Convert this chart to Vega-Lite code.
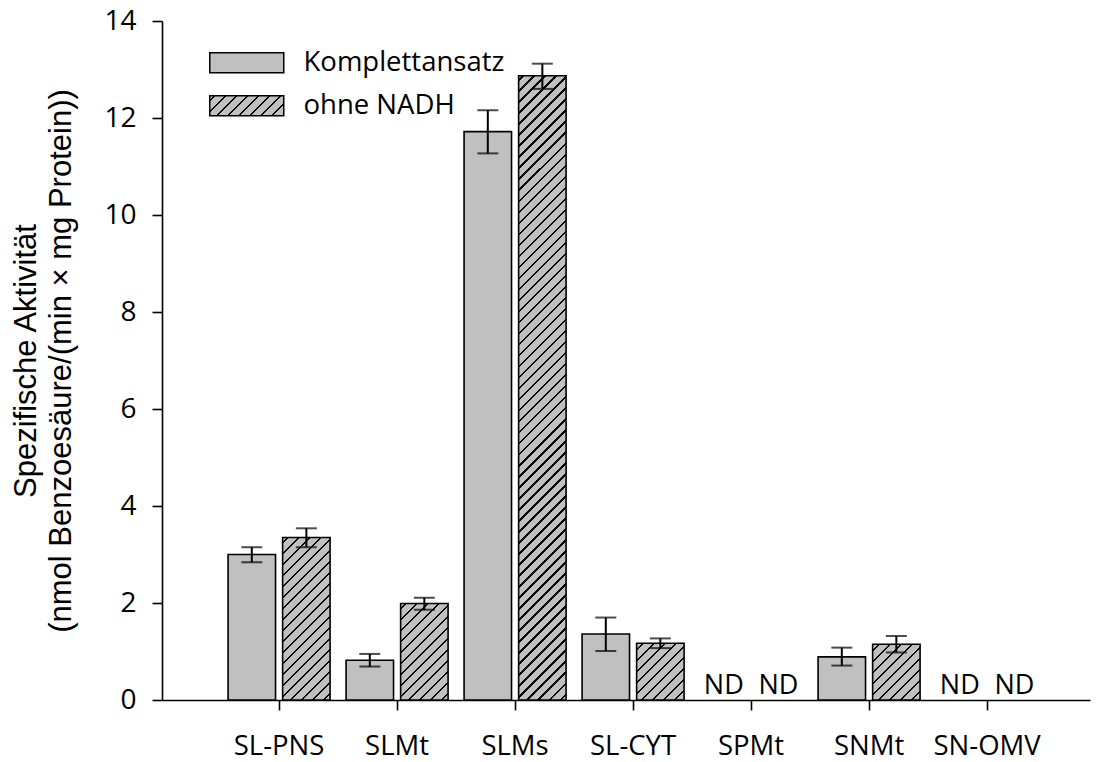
{
  "$schema": "https://vega.github.io/schema/vega-lite/v6.json",
  "autosize": {"type": "none"},
  "padding": {"left": 162, "top": 21, "right": 6, "bottom": 62},
  "width": 928,
  "height": 679,
  "background": "white",
  "config": {
    "view": {"stroke": null},
    "axis": {"grid": false, "domainColor": "black", "domainWidth": 1.6, "tickColor": "black", "tickWidth": 1.6, "tickSize": 10, "labelColor": "black", "labelFont": "Open Sans", "titleColor": "black"},
    "legend": {"title": null, "orient": "none", "padding": 0, "symbolType": "M-3.7,-1H3.7V1H-3.7Z", "symbolSize": 400, "symbolStrokeWidth": 1.5, "symbolOffset": 0, "labelFont": "Open Sans", "labelFontSize": 27.5, "labelColor": "black", "labelOffset": 43, "labelLimit": 400}
  },
  "data": {
    "values": [
      {"group": "SL-PNS", "series": "Komplettansatz", "value": 3.0, "lo": 2.84, "hi": 3.15},
      {"group": "SL-PNS", "series": "ohne NADH", "value": 3.35, "lo": 3.15, "hi": 3.54},
      {"group": "SLMt", "series": "Komplettansatz", "value": 0.82, "lo": 0.69, "hi": 0.95},
      {"group": "SLMt", "series": "ohne NADH", "value": 1.99, "lo": 1.86, "hi": 2.11},
      {"group": "SLMs", "series": "Komplettansatz", "value": 11.72, "lo": 11.27, "hi": 12.16},
      {"group": "SLMs", "series": "ohne NADH", "value": 12.87, "lo": 12.6, "hi": 13.12},
      {"group": "SL-CYT", "series": "Komplettansatz", "value": 1.36, "lo": 1.01, "hi": 1.7},
      {"group": "SL-CYT", "series": "ohne NADH", "value": 1.17, "lo": 1.07, "hi": 1.27},
      {"group": "SPMt", "series": "Komplettansatz", "value": null, "lo": null, "hi": null, "nd": "ND"},
      {"group": "SPMt", "series": "ohne NADH", "value": null, "lo": null, "hi": null, "nd": "ND"},
      {"group": "SNMt", "series": "Komplettansatz", "value": 0.89, "lo": 0.71, "hi": 1.08},
      {"group": "SNMt", "series": "ohne NADH", "value": 1.15, "lo": 0.98, "hi": 1.32},
      {"group": "SN-OMV", "series": "Komplettansatz", "value": null, "lo": null, "hi": null, "nd": "ND"},
      {"group": "SN-OMV", "series": "ohne NADH", "value": null, "lo": null, "hi": null, "nd": "ND"}
    ]
  },
  "encoding": {
    "x": {
      "field": "group", "type": "nominal", "title": null,
      "scale": {"domain": ["SL-PNS", "SLMt", "SLMs", "SL-CYT", "SPMt", "SNMt", "SN-OMV"], "paddingInner": 0.1356, "paddingOuter": 0.5, "align": 0.56},
      "axis": {"labelAngle": 0, "labelFontSize": 27.5, "labelPadding": 22, "labelBaseline": "top"}
    },
    "xOffset": {
      "field": "series", "type": "nominal",
      "scale": {"domain": ["Komplettansatz", "ohne NADH"], "paddingInner": 0.13, "paddingOuter": 0}
    }
  },
  "layer": [
    {
      "transform": [{"filter": "datum.series === 'Komplettansatz'"}],
      "mark": {"type": "bar", "fill": "silver", "strokeWidth": 1.6},
      "encoding": {
        "y": {
          "field": "value", "type": "quantitative",
          "scale": {"domain": [0, 14], "nice": false},
          "title": ["Spezifische Aktivität", "(nmol Benzoesäure/(min × mg Protein))"],
          "axis": {"values": [0, 2, 4, 6, 8, 10, 12, 14], "labelFontSize": 28, "labelPadding": 16, "titleFont": "Liberation Sans", "titleFontSize": 31, "titleFontWeight": "normal", "titleLineHeight": 35, "titlePadding": 26}
        },
        "stroke": {
          "field": "series", "type": "nominal",
          "scale": {"domain": ["Komplettansatz"], "range": ["black"]},
          "legend": {"legendX": 71, "legendY": 28}
        }
      }
    },
    {
      "transform": [{"filter": "datum.series === 'ohne NADH' && datum.value != null"}],
      "mark": {"type": "bar", "stroke": "black", "strokeWidth": 1.6},
      "encoding": {
        "y": {"field": "value", "type": "quantitative", "title": ["Spezifische Aktivität", "(nmol Benzoesäure/(min × mg Protein))"]},
        "opacity": {
          "field": "series", "type": "nominal",
          "scale": {"domain": ["ohne NADH"], "range": [1]},
          "legend": {"legendX": 71, "legendY": 71}
        },
        "fill": {
          "condition": [
            {"test": "datum.group === 'SLMs'", "value": {"gradient": "linear", "x1": 0, "y1": 0, "x2": 0.08137, "y2": 1.0704, "stops": [
              {"offset":0.005,"color":"silver"},{"offset":0.005,"color":"black"},{"offset":0.0087,"color":"black"},{"offset":0.0087,"color":"silver"},
              {"offset":0.0214,"color":"silver"},{"offset":0.0214,"color":"black"},{"offset":0.0251,"color":"black"},{"offset":0.0251,"color":"silver"},
              {"offset":0.0378,"color":"silver"},{"offset":0.0378,"color":"black"},{"offset":0.0415,"color":"black"},{"offset":0.0415,"color":"silver"},
              {"offset":0.0542,"color":"silver"},{"offset":0.0542,"color":"black"},{"offset":0.0579,"color":"black"},{"offset":0.0579,"color":"silver"},
              {"offset":0.0706,"color":"silver"},{"offset":0.0706,"color":"black"},{"offset":0.0743,"color":"black"},{"offset":0.0743,"color":"silver"},
              {"offset":0.087,"color":"silver"},{"offset":0.087,"color":"black"},{"offset":0.0907,"color":"black"},{"offset":0.0907,"color":"silver"},
              {"offset":0.1034,"color":"silver"},{"offset":0.1034,"color":"black"},{"offset":0.1071,"color":"black"},{"offset":0.1071,"color":"silver"},
              {"offset":0.1198,"color":"silver"},{"offset":0.1198,"color":"black"},{"offset":0.1235,"color":"black"},{"offset":0.1235,"color":"silver"},
              {"offset":0.1362,"color":"silver"},{"offset":0.1362,"color":"black"},{"offset":0.1399,"color":"black"},{"offset":0.1399,"color":"silver"},
              {"offset":0.1526,"color":"silver"},{"offset":0.1526,"color":"black"},{"offset":0.1563,"color":"black"},{"offset":0.1563,"color":"silver"},
              {"offset":0.169,"color":"silver"},{"offset":0.169,"color":"black"},{"offset":0.1727,"color":"black"},{"offset":0.1727,"color":"silver"},
              {"offset":0.1854,"color":"silver"},{"offset":0.1854,"color":"black"},{"offset":0.1891,"color":"black"},{"offset":0.1891,"color":"silver"},
              {"offset":0.2018,"color":"silver"},{"offset":0.2018,"color":"black"},{"offset":0.2055,"color":"black"},{"offset":0.2055,"color":"silver"},
              {"offset":0.2182,"color":"silver"},{"offset":0.2182,"color":"black"},{"offset":0.2219,"color":"black"},{"offset":0.2219,"color":"silver"},
              {"offset":0.2346,"color":"silver"},{"offset":0.2346,"color":"black"},{"offset":0.2383,"color":"black"},{"offset":0.2383,"color":"silver"},
              {"offset":0.251,"color":"silver"},{"offset":0.251,"color":"black"},{"offset":0.2547,"color":"black"},{"offset":0.2547,"color":"silver"},
              {"offset":0.2674,"color":"silver"},{"offset":0.2674,"color":"black"},{"offset":0.2711,"color":"black"},{"offset":0.2711,"color":"silver"},
              {"offset":0.2838,"color":"silver"},{"offset":0.2838,"color":"black"},{"offset":0.2875,"color":"black"},{"offset":0.2875,"color":"silver"},
              {"offset":0.3002,"color":"silver"},{"offset":0.3002,"color":"black"},{"offset":0.3039,"color":"black"},{"offset":0.3039,"color":"silver"},
              {"offset":0.3166,"color":"silver"},{"offset":0.3166,"color":"black"},{"offset":0.3203,"color":"black"},{"offset":0.3203,"color":"silver"},
              {"offset":0.333,"color":"silver"},{"offset":0.333,"color":"black"},{"offset":0.3367,"color":"black"},{"offset":0.3367,"color":"silver"},
              {"offset":0.3494,"color":"silver"},{"offset":0.3494,"color":"black"},{"offset":0.3531,"color":"black"},{"offset":0.3531,"color":"silver"},
              {"offset":0.3658,"color":"silver"},{"offset":0.3658,"color":"black"},{"offset":0.3695,"color":"black"},{"offset":0.3695,"color":"silver"},
              {"offset":0.3822,"color":"silver"},{"offset":0.3822,"color":"black"},{"offset":0.3859,"color":"black"},{"offset":0.3859,"color":"silver"},
              {"offset":0.3986,"color":"silver"},{"offset":0.3986,"color":"black"},{"offset":0.4023,"color":"black"},{"offset":0.4023,"color":"silver"},
              {"offset":0.415,"color":"silver"},{"offset":0.415,"color":"black"},{"offset":0.4187,"color":"black"},{"offset":0.4187,"color":"silver"},
              {"offset":0.4314,"color":"silver"},{"offset":0.4314,"color":"black"},{"offset":0.4351,"color":"black"},{"offset":0.4351,"color":"silver"},
              {"offset":0.4478,"color":"silver"},{"offset":0.4478,"color":"black"},{"offset":0.4515,"color":"black"},{"offset":0.4515,"color":"silver"},
              {"offset":0.4642,"color":"silver"},{"offset":0.4642,"color":"black"},{"offset":0.4679,"color":"black"},{"offset":0.4679,"color":"silver"},
              {"offset":0.4806,"color":"silver"},{"offset":0.4806,"color":"black"},{"offset":0.4843,"color":"black"},{"offset":0.4843,"color":"silver"},
              {"offset":0.497,"color":"silver"},{"offset":0.497,"color":"black"},{"offset":0.5007,"color":"black"},{"offset":0.5007,"color":"silver"},
              {"offset":0.5134,"color":"silver"},{"offset":0.5134,"color":"black"},{"offset":0.5171,"color":"black"},{"offset":0.5171,"color":"silver"},
              {"offset":0.5298,"color":"silver"},{"offset":0.5298,"color":"black"},{"offset":0.5335,"color":"black"},{"offset":0.5335,"color":"silver"},
              {"offset":0.5462,"color":"silver"},{"offset":0.5462,"color":"black"},{"offset":0.5499,"color":"black"},{"offset":0.5499,"color":"silver"},
              {"offset":0.5626,"color":"silver"},{"offset":0.5626,"color":"black"},{"offset":0.5663,"color":"black"},{"offset":0.5663,"color":"silver"},
              {"offset":0.579,"color":"silver"},{"offset":0.579,"color":"black"},{"offset":0.5827,"color":"black"},{"offset":0.5827,"color":"silver"},
              {"offset":0.5954,"color":"silver"},{"offset":0.5954,"color":"black"},{"offset":0.5991,"color":"black"},{"offset":0.5991,"color":"silver"},
              {"offset":0.6118,"color":"silver"},{"offset":0.6118,"color":"black"},{"offset":0.6155,"color":"black"},{"offset":0.6155,"color":"silver"},
              {"offset":0.6282,"color":"silver"},{"offset":0.6282,"color":"black"},{"offset":0.6319,"color":"black"},{"offset":0.6319,"color":"silver"},
              {"offset":0.6446,"color":"silver"},{"offset":0.6446,"color":"black"},{"offset":0.6483,"color":"black"},{"offset":0.6483,"color":"silver"},
              {"offset":0.661,"color":"silver"},{"offset":0.661,"color":"black"},{"offset":0.6647,"color":"black"},{"offset":0.6647,"color":"silver"},
              {"offset":0.6774,"color":"silver"},{"offset":0.6774,"color":"black"},{"offset":0.6811,"color":"black"},{"offset":0.6811,"color":"silver"},
              {"offset":0.6938,"color":"silver"},{"offset":0.6938,"color":"black"},{"offset":0.6975,"color":"black"},{"offset":0.6975,"color":"silver"},
              {"offset":0.7102,"color":"silver"},{"offset":0.7102,"color":"black"},{"offset":0.7139,"color":"black"},{"offset":0.7139,"color":"silver"},
              {"offset":0.7266,"color":"silver"},{"offset":0.7266,"color":"black"},{"offset":0.7303,"color":"black"},{"offset":0.7303,"color":"silver"},
              {"offset":0.743,"color":"silver"},{"offset":0.743,"color":"black"},{"offset":0.7467,"color":"black"},{"offset":0.7467,"color":"silver"},
              {"offset":0.7594,"color":"silver"},{"offset":0.7594,"color":"black"},{"offset":0.7631,"color":"black"},{"offset":0.7631,"color":"silver"},
              {"offset":0.7758,"color":"silver"},{"offset":0.7758,"color":"black"},{"offset":0.7795,"color":"black"},{"offset":0.7795,"color":"silver"},
              {"offset":0.7922,"color":"silver"},{"offset":0.7922,"color":"black"},{"offset":0.7959,"color":"black"},{"offset":0.7959,"color":"silver"},
              {"offset":0.8086,"color":"silver"},{"offset":0.8086,"color":"black"},{"offset":0.8123,"color":"black"},{"offset":0.8123,"color":"silver"},
              {"offset":0.825,"color":"silver"},{"offset":0.825,"color":"black"},{"offset":0.8287,"color":"black"},{"offset":0.8287,"color":"silver"},
              {"offset":0.8414,"color":"silver"},{"offset":0.8414,"color":"black"},{"offset":0.8451,"color":"black"},{"offset":0.8451,"color":"silver"},
              {"offset":0.8578,"color":"silver"},{"offset":0.8578,"color":"black"},{"offset":0.8615,"color":"black"},{"offset":0.8615,"color":"silver"},
              {"offset":0.8742,"color":"silver"},{"offset":0.8742,"color":"black"},{"offset":0.8779,"color":"black"},{"offset":0.8779,"color":"silver"},
              {"offset":0.8906,"color":"silver"},{"offset":0.8906,"color":"black"},{"offset":0.8943,"color":"black"},{"offset":0.8943,"color":"silver"},
              {"offset":0.907,"color":"silver"},{"offset":0.907,"color":"black"},{"offset":0.9107,"color":"black"},{"offset":0.9107,"color":"silver"},
              {"offset":0.9234,"color":"silver"},{"offset":0.9234,"color":"black"},{"offset":0.9271,"color":"black"},{"offset":0.9271,"color":"silver"},
              {"offset":0.9398,"color":"silver"},{"offset":0.9398,"color":"black"},{"offset":0.9435,"color":"black"},{"offset":0.9435,"color":"silver"},
              {"offset":0.9562,"color":"silver"},{"offset":0.9562,"color":"black"},{"offset":0.9599,"color":"black"},{"offset":0.9599,"color":"silver"},
              {"offset":0.9726,"color":"silver"},{"offset":0.9726,"color":"black"},{"offset":0.9763,"color":"black"},{"offset":0.9763,"color":"silver"},
              {"offset":0.989,"color":"silver"},{"offset":0.989,"color":"black"},{"offset":0.9927,"color":"black"},{"offset":0.9927,"color":"silver"}
            ]}},
            {"test": "datum.group === 'SL-PNS'", "value": {"gradient": "linear", "x1": 0, "y1": 0, "x2": 0.3478, "y2": 1.1909, "stops": [
              {"offset":0.02,"color":"silver"},{"offset":0.02,"color":"black"},{"offset":0.032,"color":"black"},{"offset":0.032,"color":"silver"},
              {"offset":0.0724,"color":"silver"},{"offset":0.0724,"color":"black"},{"offset":0.0844,"color":"black"},{"offset":0.0844,"color":"silver"},
              {"offset":0.1248,"color":"silver"},{"offset":0.1248,"color":"black"},{"offset":0.1368,"color":"black"},{"offset":0.1368,"color":"silver"},
              {"offset":0.1772,"color":"silver"},{"offset":0.1772,"color":"black"},{"offset":0.1892,"color":"black"},{"offset":0.1892,"color":"silver"},
              {"offset":0.2296,"color":"silver"},{"offset":0.2296,"color":"black"},{"offset":0.2416,"color":"black"},{"offset":0.2416,"color":"silver"},
              {"offset":0.282,"color":"silver"},{"offset":0.282,"color":"black"},{"offset":0.294,"color":"black"},{"offset":0.294,"color":"silver"},
              {"offset":0.3344,"color":"silver"},{"offset":0.3344,"color":"black"},{"offset":0.3464,"color":"black"},{"offset":0.3464,"color":"silver"},
              {"offset":0.3868,"color":"silver"},{"offset":0.3868,"color":"black"},{"offset":0.3988,"color":"black"},{"offset":0.3988,"color":"silver"},
              {"offset":0.4392,"color":"silver"},{"offset":0.4392,"color":"black"},{"offset":0.4512,"color":"black"},{"offset":0.4512,"color":"silver"},
              {"offset":0.4916,"color":"silver"},{"offset":0.4916,"color":"black"},{"offset":0.5036,"color":"black"},{"offset":0.5036,"color":"silver"},
              {"offset":0.544,"color":"silver"},{"offset":0.544,"color":"black"},{"offset":0.556,"color":"black"},{"offset":0.556,"color":"silver"},
              {"offset":0.5964,"color":"silver"},{"offset":0.5964,"color":"black"},{"offset":0.6084,"color":"black"},{"offset":0.6084,"color":"silver"},
              {"offset":0.6488,"color":"silver"},{"offset":0.6488,"color":"black"},{"offset":0.6608,"color":"black"},{"offset":0.6608,"color":"silver"},
              {"offset":0.7012,"color":"silver"},{"offset":0.7012,"color":"black"},{"offset":0.7132,"color":"black"},{"offset":0.7132,"color":"silver"},
              {"offset":0.7536,"color":"silver"},{"offset":0.7536,"color":"black"},{"offset":0.7656,"color":"black"},{"offset":0.7656,"color":"silver"},
              {"offset":0.806,"color":"silver"},{"offset":0.806,"color":"black"},{"offset":0.818,"color":"black"},{"offset":0.818,"color":"silver"},
              {"offset":0.8584,"color":"silver"},{"offset":0.8584,"color":"black"},{"offset":0.8704,"color":"black"},{"offset":0.8704,"color":"silver"},
              {"offset":0.9108,"color":"silver"},{"offset":0.9108,"color":"black"},{"offset":0.9228,"color":"black"},{"offset":0.9228,"color":"silver"},
              {"offset":0.9632,"color":"silver"},{"offset":0.9632,"color":"black"},{"offset":0.9752,"color":"black"},{"offset":0.9752,"color":"silver"}
            ]}},
            {"test": "datum.group === 'SLMt'", "value": {"gradient": "linear", "x1": 0, "y1": 0, "x2": 0.5907, "y2": 1.2015, "stops": [
              {"offset":0.03,"color":"silver"},{"offset":0.03,"color":"black"},{"offset":0.0474,"color":"black"},{"offset":0.0474,"color":"silver"},
              {"offset":0.1064,"color":"silver"},{"offset":0.1064,"color":"black"},{"offset":0.1238,"color":"black"},{"offset":0.1238,"color":"silver"},
              {"offset":0.1828,"color":"silver"},{"offset":0.1828,"color":"black"},{"offset":0.2002,"color":"black"},{"offset":0.2002,"color":"silver"},
              {"offset":0.2592,"color":"silver"},{"offset":0.2592,"color":"black"},{"offset":0.2766,"color":"black"},{"offset":0.2766,"color":"silver"},
              {"offset":0.3356,"color":"silver"},{"offset":0.3356,"color":"black"},{"offset":0.353,"color":"black"},{"offset":0.353,"color":"silver"},
              {"offset":0.412,"color":"silver"},{"offset":0.412,"color":"black"},{"offset":0.4294,"color":"black"},{"offset":0.4294,"color":"silver"},
              {"offset":0.4884,"color":"silver"},{"offset":0.4884,"color":"black"},{"offset":0.5058,"color":"black"},{"offset":0.5058,"color":"silver"},
              {"offset":0.5648,"color":"silver"},{"offset":0.5648,"color":"black"},{"offset":0.5822,"color":"black"},{"offset":0.5822,"color":"silver"},
              {"offset":0.6412,"color":"silver"},{"offset":0.6412,"color":"black"},{"offset":0.6586,"color":"black"},{"offset":0.6586,"color":"silver"},
              {"offset":0.7176,"color":"silver"},{"offset":0.7176,"color":"black"},{"offset":0.735,"color":"black"},{"offset":0.735,"color":"silver"},
              {"offset":0.794,"color":"silver"},{"offset":0.794,"color":"black"},{"offset":0.8114,"color":"black"},{"offset":0.8114,"color":"silver"},
              {"offset":0.8704,"color":"silver"},{"offset":0.8704,"color":"black"},{"offset":0.8878,"color":"black"},{"offset":0.8878,"color":"silver"},
              {"offset":0.9468,"color":"silver"},{"offset":0.9468,"color":"black"},{"offset":0.9642,"color":"black"},{"offset":0.9642,"color":"silver"}
            ]}},
            {"test": "datum.group === 'SL-CYT'", "value": {"gradient": "linear", "x1": 0, "y1": 0, "x2": 0.9035, "y2": 1.0806, "stops": [
              {"offset":0.05,"color":"silver"},{"offset":0.05,"color":"black"},{"offset":0.074,"color":"black"},{"offset":0.074,"color":"silver"},
              {"offset":0.1556,"color":"silver"},{"offset":0.1556,"color":"black"},{"offset":0.1796,"color":"black"},{"offset":0.1796,"color":"silver"},
              {"offset":0.2612,"color":"silver"},{"offset":0.2612,"color":"black"},{"offset":0.2852,"color":"black"},{"offset":0.2852,"color":"silver"},
              {"offset":0.3668,"color":"silver"},{"offset":0.3668,"color":"black"},{"offset":0.3908,"color":"black"},{"offset":0.3908,"color":"silver"},
              {"offset":0.4724,"color":"silver"},{"offset":0.4724,"color":"black"},{"offset":0.4964,"color":"black"},{"offset":0.4964,"color":"silver"},
              {"offset":0.578,"color":"silver"},{"offset":0.578,"color":"black"},{"offset":0.602,"color":"black"},{"offset":0.602,"color":"silver"},
              {"offset":0.6836,"color":"silver"},{"offset":0.6836,"color":"black"},{"offset":0.7076,"color":"black"},{"offset":0.7076,"color":"silver"},
              {"offset":0.7892,"color":"silver"},{"offset":0.7892,"color":"black"},{"offset":0.8132,"color":"black"},{"offset":0.8132,"color":"silver"},
              {"offset":0.8948,"color":"silver"},{"offset":0.8948,"color":"black"},{"offset":0.9188,"color":"black"},{"offset":0.9188,"color":"silver"}
            ]}},
            {"test": "datum.group === 'SNMt'", "value": {"gradient": "linear", "x1": 0, "y1": 0, "x2": 0.9131, "y2": 1.0734, "stops": [
              {"offset":0.05,"color":"silver"},{"offset":0.05,"color":"black"},{"offset":0.0742,"color":"black"},{"offset":0.0742,"color":"silver"},
              {"offset":0.1566,"color":"silver"},{"offset":0.1566,"color":"black"},{"offset":0.1808,"color":"black"},{"offset":0.1808,"color":"silver"},
              {"offset":0.2632,"color":"silver"},{"offset":0.2632,"color":"black"},{"offset":0.2874,"color":"black"},{"offset":0.2874,"color":"silver"},
              {"offset":0.3698,"color":"silver"},{"offset":0.3698,"color":"black"},{"offset":0.394,"color":"black"},{"offset":0.394,"color":"silver"},
              {"offset":0.4764,"color":"silver"},{"offset":0.4764,"color":"black"},{"offset":0.5006,"color":"black"},{"offset":0.5006,"color":"silver"},
              {"offset":0.583,"color":"silver"},{"offset":0.583,"color":"black"},{"offset":0.6072,"color":"black"},{"offset":0.6072,"color":"silver"},
              {"offset":0.6896,"color":"silver"},{"offset":0.6896,"color":"black"},{"offset":0.7138,"color":"black"},{"offset":0.7138,"color":"silver"},
              {"offset":0.7962,"color":"silver"},{"offset":0.7962,"color":"black"},{"offset":0.8204,"color":"black"},{"offset":0.8204,"color":"silver"},
              {"offset":0.9028,"color":"silver"},{"offset":0.9028,"color":"black"},{"offset":0.927,"color":"black"},{"offset":0.927,"color":"silver"}
            ]}}
          ],
          "value": {"gradient": "linear", "x1": 0, "y1": 0, "x2": 1.1838, "y2": 0.3199, "stops": [
            {"offset":0.04,"color":"silver"},{"offset":0.04,"color":"black"},{"offset":0.0666,"color":"black"},{"offset":0.0666,"color":"silver"},
            {"offset":0.157,"color":"silver"},{"offset":0.157,"color":"black"},{"offset":0.1836,"color":"black"},{"offset":0.1836,"color":"silver"},
            {"offset":0.274,"color":"silver"},{"offset":0.274,"color":"black"},{"offset":0.3006,"color":"black"},{"offset":0.3006,"color":"silver"},
            {"offset":0.391,"color":"silver"},{"offset":0.391,"color":"black"},{"offset":0.4176,"color":"black"},{"offset":0.4176,"color":"silver"},
            {"offset":0.508,"color":"silver"},{"offset":0.508,"color":"black"},{"offset":0.5346,"color":"black"},{"offset":0.5346,"color":"silver"},
            {"offset":0.625,"color":"silver"},{"offset":0.625,"color":"black"},{"offset":0.6516,"color":"black"},{"offset":0.6516,"color":"silver"},
            {"offset":0.742,"color":"silver"},{"offset":0.742,"color":"black"},{"offset":0.7686,"color":"black"},{"offset":0.7686,"color":"silver"},
            {"offset":0.859,"color":"silver"},{"offset":0.859,"color":"black"},{"offset":0.8856,"color":"black"},{"offset":0.8856,"color":"silver"},
            {"offset":0.976,"color":"silver"},{"offset":0.976,"color":"black"},{"offset":1,"color":"black"}
          ]}
        }
      }
    },
    {
      "transform": [{"filter": "datum.lo != null"}],
      "mark": {"type": "rule", "color": "black", "strokeWidth": 2},
      "encoding": {
        "y": {"field": "lo", "type": "quantitative", "title": ["Spezifische Aktivität", "(nmol Benzoesäure/(min × mg Protein))"]},
        "y2": {"field": "hi"}
      }
    },
    {
      "transform": [{"filter": "datum.lo != null"}],
      "mark": {"type": "tick", "color": "black", "size": 21, "thickness": 2, "orient": "horizontal"},
      "encoding": {
        "y": {"field": "lo", "type": "quantitative", "title": ["Spezifische Aktivität", "(nmol Benzoesäure/(min × mg Protein))"]}
      }
    },
    {
      "transform": [{"filter": "datum.hi != null"}],
      "mark": {"type": "tick", "color": "black", "size": 21, "thickness": 2, "orient": "horizontal"},
      "encoding": {
        "y": {"field": "hi", "type": "quantitative", "title": ["Spezifische Aktivität", "(nmol Benzoesäure/(min × mg Protein))"]}
      }
    },
    {
      "transform": [{"filter": "datum.nd != null"}],
      "mark": {"type": "text", "font": "Open Sans", "fontSize": 27, "color": "black", "baseline": "alphabetic", "dy": -6},
      "encoding": {
        "y": {"datum": 0, "type": "quantitative", "title": ["Spezifische Aktivität", "(nmol Benzoesäure/(min × mg Protein))"]},
        "text": {"field": "nd"}
      }
    }
  ]
}
